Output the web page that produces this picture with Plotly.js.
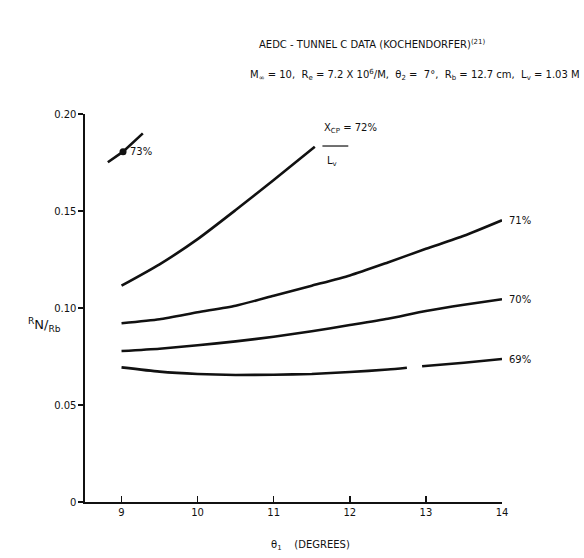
<!DOCTYPE html>
<html>
<head>
<meta charset="utf-8">
<script src="https://cdn.plot.ly/plotly-3.0.1.min.js"></script>
<style>html,body{margin:0;padding:0;background:#fff;}#chart{width:584px;height:558px;}</style>
</head>
<body>
<div id="chart"></div>
<script>
// theta_1 (degrees) and R_N/R_b for each X_CP/L_v curve
var theta69a = [9, 9.5, 10, 10.5, 11, 11.5, 12, 12.5, 12.75];
var r69a     = [0.0694, 0.0672, 0.0660, 0.0655, 0.0656, 0.0660, 0.0670, 0.0683, 0.0692];
var theta69b = [12.95, 13.5, 14];
var r69b     = [0.0700, 0.0718, 0.0737];
var theta70 = [9, 9.5, 10, 10.5, 11, 11.5, 12, 12.5, 13, 13.5, 14];
var r70     = [0.0778, 0.0790, 0.0808, 0.0828, 0.0852, 0.0880, 0.0912, 0.0945, 0.0985, 0.1017, 0.1045];
var theta71 = [9, 9.5, 10, 10.5, 11, 11.5, 12, 12.5, 13, 13.5, 14];
var r71     = [0.0921, 0.0942, 0.0978, 0.1012, 0.1063, 0.1115, 0.1168, 0.1235, 0.1305, 0.1372, 0.1452];
var theta72 = [9, 9.5, 10, 10.5, 11, 11.54];
var r72     = [0.1115, 0.1225, 0.1355, 0.1505, 0.1660, 0.1831];
var theta73 = [8.82, 9.02, 9.28];
var r73     = [0.1751, 0.1806, 0.1900];
var theta73pt = [9.02];
var r73pt     = [0.1806];
var xTicks = [9, 10, 11, 12, 13, 14];
var xTickText = ["9", "10", "11", "12", "13", "14"];
var yTicks = [0, 0.05, 0.10, 0.15, 0.20];
var yTickText = ["0", "0.05", "0.10", "0.15", "0.20"];
var curveLabels = ["69%", "70%", "71%"];

var FONT = "DejaVu Sans, Liberation Sans, sans-serif";
var INK = "#111";
function curve(x, y) {
  return {x: x, y: y, mode: "lines", type: "scatter",
          line: {color: INK, width: 2.6, shape: "spline", smoothing: 0.6},
          hoverinfo: "skip", showlegend: false};
}
var data = [
  curve(theta69a, r69a), curve(theta69b, r69b), curve(theta70, r70),
  curve(theta71, r71), curve(theta72, r72),
  {x: theta73, y: r73, mode: "lines", type: "scatter", line: {color: INK, width: 2.6}, showlegend: false, hoverinfo: "skip"},
  {x: theta73pt, y: r73pt, mode: "markers", type: "scatter", marker: {color: INK, size: 7}, showlegend: false, hoverinfo: "skip"}
];

var XMIN = 8.52, XMAX = 14;
var ends = [r69b[r69b.length - 1], r70[r70.length - 1], r71[r71.length - 1]];
var labelX = (14.06 - XMIN) / (XMAX - XMIN);
var annotations = [];
for (var i = 0; i < curveLabels.length; i++) {
  annotations.push({x: labelX, y: ends[i], xref: "paper", yref: "y", text: curveLabels[i], showarrow: false,
    xanchor: "left", yanchor: "middle", font: {family: FONT, size: 10, color: INK}});
}
annotations.push({x: 9.08, y: r73pt[0], xref: "x", yref: "y", text: "73%", showarrow: false,
  xanchor: "left", yanchor: "middle", font: {family: FONT, size: 10, color: INK}});
annotations.push({x: 11.64, y: 0.1925, xref: "x", yref: "y", text: "X<sub>CP</sub> = 72%", showarrow: false,
  xanchor: "left", yanchor: "middle", font: {family: FONT, size: 10, color: INK}});
annotations.push({x: 11.68, y: 0.1755, xref: "x", yref: "y", text: "L<sub>v</sub>", showarrow: false,
  xanchor: "left", yanchor: "middle", font: {family: FONT, size: 10, color: INK}});
annotations.push({x: 0.412, y: 1.18, xref: "paper", yref: "paper", text: "AEDC - TUNNEL C DATA (KOCHENDORFER)<sup>(21)</sup>",
  showarrow: false, xanchor: "left", yanchor: "middle", font: {family: FONT, size: 10, color: INK}});
annotations.push({x: 1.192, y: 1.10, xref: "paper", yref: "paper",
  text: "M<sub>∞</sub> = 10,  R<sub>e</sub> = 7.2 X 10<sup>6</sup>/M,  θ<sub>2</sub> =  7°,  R<sub>b</sub> = 12.7 cm,  L<sub>v</sub> = 1.03 M",
  showarrow: false, xanchor: "right", yanchor: "middle", font: {family: FONT, size: 10, color: INK}});
annotations.push({x: -0.096, y: 0.456, xref: "paper", yref: "paper", text: "<sup>R</sup>N/<sub>R</sub><sub>b</sub>",
  showarrow: false, xanchor: "center", yanchor: "middle", font: {family: FONT, size: 13, color: INK}});
annotations.push({x: 0.54, y: -0.113, xref: "paper", yref: "paper", text: "θ<sub>1</sub>    (DEGREES)",
  showarrow: false, xanchor: "center", yanchor: "middle", font: {family: FONT, size: 10, color: INK}});

var layout = {
  width: 584, height: 558,
  margin: {l: 85, r: 82, t: 114, b: 56},
  paper_bgcolor: "#fff", plot_bgcolor: "#fff",
  font: {family: FONT, size: 10, color: INK},
  showlegend: false,
  xaxis: {range: [XMIN, XMAX], tickvals: xTicks, ticktext: xTickText, ticks: "inside", ticklen: 6,
          tickwidth: 1.5, tickcolor: INK, showline: true, linecolor: INK, linewidth: 1.6,
          showgrid: false, zeroline: false, fixedrange: true, tickfont: {family: FONT, size: 10, color: INK}},
  yaxis: {range: [0, 0.2], tickvals: yTicks, ticktext: yTickText, ticks: "outside", ticklen: 5,
          tickwidth: 1.5, tickcolor: INK, showline: true, linecolor: INK, linewidth: 1.6,
          showgrid: false, zeroline: false, fixedrange: true, tickfont: {family: FONT, size: 10, color: INK}},
  shapes: [{type: "line", xref: "x", yref: "y", x0: 11.64, x1: 11.98, y0: 0.1835, y1: 0.1835,
            line: {color: INK, width: 1.2}}],
  annotations: annotations
};
Plotly.newPlot("chart", data, layout, {staticPlot: true, displayModeBar: false});
</script>
</body>
</html>
